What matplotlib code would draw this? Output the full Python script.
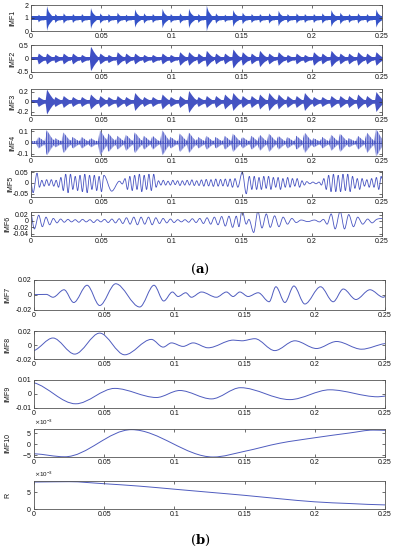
import numpy as np
import matplotlib
matplotlib.use("Agg")
import matplotlib.pyplot as plt
from matplotlib.path import Path
from matplotlib.patches import PathPatch
from matplotlib.ticker import FixedLocator, FixedFormatter, ScalarFormatter

# ------------------------------------------------------------------ data
xtick_values = [0, 0.05, 0.1, 0.15, 0.2, 0.25]
xtick_labels = ["0", "0.05", "0.1", "0.15", "0.2", "0.25"]

# impulse (burst) times in ms (IMF1..IMF4)
burst_times_ms = [5.2, 11.1, 17.1, 23.0, 29.6, 36.0, 42.4, 49.1, 55.0, 61.4,
                  67.5, 73.9, 80.3, 86.5, 93.4, 99.3, 105.9, 112.3, 119.0, 124.9,
                  131.5, 137.9, 143.8, 150.5, 156.9, 162.8, 169.4, 176.1, 182.5, 188.9,
                  194.8, 201.2, 207.3, 213.7, 220.1, 226.3, 232.7, 239.1, 245.7]

imf1_peaks = [0.3, 0.95, 0.35, 0.4, 0.35, 0.35, 0.8, 0.4, 0.35, 0.45,
              0.3, 0.7, 0.4, 0.35, 0.75, 0.35, 0.4, 0.75, 0.35, 1.0,
              0.4, 0.3, 0.65, 0.45, 0.35, 0.35, 0.4, 0.6, 0.35, 0.4,
              0.35, 0.35, 0.4, 0.65, 0.45, 0.35, 0.4, 0.35, 0.7]
imf2_peaks = [0.2, 0.2, 0.15, 0.2, 0.2, 0.15, 0.45, 0.2, 0.15, 0.25,
              0.2, 0.2, 0.15, 0.15, 0.2, 0.15, 0.25, 0.25, 0.2, 0.3,
              0.2, 0.2, 0.35, 0.25, 0.2, 0.3, 0.2, 0.25, 0.15, 0.2,
              0.15, 0.25, 0.2, 0.3, 0.2, 0.2, 0.25, 0.2, 0.25]
imf3_peaks = [0.1, 0.25, 0.1, 0.12, 0.1, 0.1, 0.15, 0.12, 0.1, 0.12,
              0.1, 0.18, 0.1, 0.1, 0.15, 0.1, 0.12, 0.22, 0.1, 0.12,
              0.12, 0.15, 0.18, 0.12, 0.12, 0.15, 0.18, 0.15, 0.12, 0.12,
              0.18, 0.1, 0.1, 0.12, 0.12, 0.12, 0.15, 0.12, 0.2]
imf4_peaks = [0.05, 0.11, 0.04, 0.09, 0.05, 0.05, 0.04, 0.11, 0.08, 0.06,
              0.07, 0.09, 0.06, 0.06, 0.11, 0.05, 0.08, 0.09, 0.05, 0.06,
              0.05, 0.06, 0.08, 0.05, 0.06, 0.07, 0.08, 0.06, 0.05, 0.06,
              0.09, 0.04, 0.05, 0.07, 0.08, 0.04, 0.06, 0.09, 0.12]
imf1_center, imf1_floor = 1.0, 0.14
imf2_floor = 0.06
imf3_floor = 0.035
imf4_floor = 0.014

# extrema (time in ms, value) (IMF5..R)
imf5_pts = [(0, 0.0), (1.5, -0.045), (4.3, 0.045), (6.0, -0.02), (7.7, 0.012), (9.4, -0.015),
            (11.1, 0.015), (12.8, -0.012), (14.5, 0.015), (16.2, -0.015), (17.9, 0.012),
            (19.6, -0.02), (21.3, 0.025), (23.0, -0.035), (24.7, 0.04), (26.4, -0.045),
            (28.1, 0.04), (29.8, -0.03), (31.5, 0.03), (33.2, -0.035), (34.9, 0.035),
            (36.6, -0.04), (38.3, 0.04), (40.0, -0.045), (41.7, 0.035), (43.4, -0.03),
            (45.1, 0.035), (46.8, -0.035), (48.5, 0.03), (50.2, -0.04), (51.9, 0.035),
            (57.5, -0.038), (63.0, 0.008), (65.0, -0.005), (67.0, 0.02), (68.7, -0.03),
            (70.4, 0.03), (72.1, -0.035), (73.8, 0.035), (75.5, -0.03), (77.2, 0.04),
            (78.9, -0.04), (80.6, 0.035), (82.3, -0.03), (84.0, 0.04), (85.7, -0.035),
            (87.4, 0.04), (89.1, -0.02), (90.8, 0.01), (92.5, -0.01), (94.2, 0.012),
            (95.9, -0.01), (97.6, 0.008), (99.3, -0.01), (101.0, 0.012), (102.7, -0.008),
            (104.4, 0.01), (106.1, -0.012), (107.8, 0.01), (109.5, -0.01), (111.2, 0.012),
            (112.9, -0.01), (114.6, 0.014), (116.3, -0.012), (118.0, 0.01), (119.7, -0.012),
            (121.4, 0.014), (123.1, -0.015), (124.8, 0.016), (126.5, -0.014), (128.2, 0.015),
            (129.9, -0.016), (131.6, 0.018), (133.3, -0.015), (135.0, 0.016), (136.7, -0.014),
            (138.4, 0.018), (140.1, -0.016), (141.8, 0.018), (143.5, -0.02), (145.3, 0.02),
            (147.3, -0.02), (150.5, 0.05), (153.3, -0.05), (155.5, 0.03), (157.3, -0.03),
            (159.0, 0.03), (160.7, -0.03), (162.4, 0.025), (164.1, -0.03), (165.8, 0.03),
            (167.5, -0.025), (169.2, 0.03), (170.9, -0.03), (172.6, 0.025), (174.3, -0.02),
            (176.0, 0.025), (177.7, -0.03), (179.4, 0.02), (181.1, -0.02), (182.8, 0.025),
            (184.5, -0.02), (186.2, 0.02), (187.9, -0.015), (189.6, 0.02), (191.3, -0.02),
            (193.0, 0.01), (194.7, -0.01), (196.4, 0.006), (198.6, -0.004), (200.8, 0.004),
            (203.0, -0.004), (205.2, 0.004), (206.9, -0.01), (208.6, 0.02), (210.3, -0.03),
            (212.0, 0.035), (213.7, -0.04), (215.4, 0.04), (217.1, -0.04), (218.8, 0.035),
            (220.5, -0.04), (222.2, 0.04), (223.9, -0.035), (225.6, 0.04), (227.3, -0.04),
            (229.0, 0.03), (230.7, -0.025), (232.4, 0.02), (234.1, -0.03), (235.8, 0.02),
            (237.5, -0.015), (239.2, 0.015), (240.9, -0.02), (242.6, 0.02), (244.3, -0.02),
            (246.0, 0.025), (247.7, -0.03), (249.4, 0.03), (250.0, 0.02)]

imf6_pts = [(0, 0.022), (2.4, -0.025), (5.5, 0.018), (8.1, -0.018), (10.7, 0.012), (13.3, -0.012),
            (15.9, 0.008), (18.5, -0.006), (21.1, 0.006), (23.7, -0.004), (26.3, 0.005),
            (28.9, -0.003), (31.5, 0.004), (34.1, -0.004), (36.7, 0.005), (39.3, -0.003),
            (42.0, 0.004), (44.6, -0.005), (47.2, 0.004), (49.8, -0.003), (52.4, 0.005),
            (55.0, -0.005), (57.6, 0.006), (60.2, -0.006), (62.8, 0.007), (65.4, -0.008),
            (68.0, 0.01), (70.6, -0.01), (73.2, 0.012), (75.8, -0.012), (78.4, 0.012),
            (81.0, -0.01), (83.7, 0.012), (86.3, -0.012), (88.9, 0.01), (91.5, -0.008),
            (94.1, 0.008), (96.7, -0.006), (99.3, 0.006), (101.9, -0.005), (104.5, 0.004),
            (107.1, -0.003), (109.7, 0.004), (112.3, -0.004), (114.9, 0.007), (117.6, -0.005),
            (120.2, 0.008), (122.8, -0.008), (125.4, 0.01), (128.0, -0.01), (130.6, 0.012),
            (133.2, -0.012), (135.8, 0.014), (138.4, -0.016), (141.0, 0.015), (143.6, -0.02),
            (146.2, 0.015), (148.1, -0.018), (150.3, 0.034), (153.3, -0.01), (155.2, 0.005),
            (158.6, -0.036), (161.6, 0.03), (164.5, -0.022), (167.6, 0.022), (170.4, -0.02),
            (173.5, 0.016), (176.6, -0.018), (179.6, 0.012), (182.7, -0.01), (185.8, 0.008),
            (188.9, -0.005), (192.4, 0.003), (197.2, -0.002), (201.9, 0.003), (205.5, -0.003),
            (208.3, 0.005), (210.9, -0.01), (213.8, 0.022), (216.6, -0.025), (220.2, 0.03),
            (223.3, -0.025), (226.3, 0.02), (229.7, -0.018), (232.7, 0.012), (236.3, -0.01),
            (239.8, 0.006), (242.9, -0.006), (246.2, 0.005), (250.0, 0.008)]

imf7_pts = [(0, 0.0005), (8.8, 0.0008), (13.5, -0.003), (21.4, 0.007), (28.3, -0.010),
            (37.8, 0.013), (46.8, -0.014), (58.2, 0.015), (75.3, -0.016), (85.5, 0.013),
            (92.4, -0.008), (98.6, 0.004), (102.6, -0.002), (108.1, 0.003), (112.1, -0.003),
            (119.3, 0.004), (129.9, -0.003), (137.1, 0.004), (141.8, -0.002), (146.6, 0.004),
            (152.5, -0.002), (159.7, 0.003), (167.5, -0.009), (172.3, 0.011), (178.7, -0.010),
            (185.1, 0.012), (192.9, -0.012), (204.1, 0.011), (213.1, -0.009), (220.3, 0.008),
            (229.3, -0.006), (239.3, 0.007), (248.8, -0.003), (250.0, -0.002)]

imf8_pts = [(0, -0.008), (13.5, 0.010), (29.0, -0.013), (46.8, 0.017), (64.6, -0.014),
            (83.6, 0.008), (92.0, -0.003), (97.9, 0.003), (106.2, -0.002), (113.3, 0.003),
            (124.0, -0.004), (142.0, 0.007), (148.0, 0.006), (157.3, 0.009), (171.5, -0.008),
            (185.8, 0.006), (201.2, -0.005), (215.5, 0.005), (233.3, -0.006), (250.0, 0.002)]

imf9_pts = [(0, 0.008), (29.7, -0.007), (57.5, 0.004), (87.2, -0.0025), (103.8, 0.0025),
            (126.4, -0.0035), (147.1, 0.0045), (182.2, -0.004), (210.7, 0.003),
            (245.0, -0.002), (250.0, -0.0015)]

imf10_pts = [(0, -4.5e-3), (21.9, -5.9e-3), (69.4, 6.5e-3), (127.6, -6.0e-3), (150, -3.4e-3),
             (175, 0.3e-3), (200, 2.8e-3), (225, 5.0e-3), (241.6, 6.3e-3), (250, 6.2e-3)]

r_pts = [(0, 7.9e-3), (25, 8.0e-3), (50, 7.4e-3), (75, 6.7e-3), (100, 5.8e-3), (125, 4.9e-3),
         (150, 4.0e-3), (175, 3.0e-3), (200, 2.1e-3), (225, 1.6e-3), (250, 1.2e-3)]

labels_a = ["IMF1", "IMF2", "IMF3", "IMF4", "IMF5", "IMF6"]
labels_b = ["IMF7", "IMF8", "IMF9", "IMF10", "R"]
yticks_a = [[0, 1, 2], [-0.5, 0, 0.5], [-0.2, 0, 0.2], [-0.1, 0, 0.1], [-0.05, 0, 0.05],
            [-0.04, -0.02, 0, 0.02]]
yticks_b = [[-0.02, 0, 0.02], [-0.02, 0, 0.02], [-0.01, 0, 0.01], [-5e-3, 0, 5e-3], [0, 5e-3]]

# ------------------------------------------------------------------ style / layout
W, H = 397, 550
plt.rcParams["font.family"] = ["Liberation Sans", "DejaVu Sans"]
plt.rcParams["mathtext.fontset"] = "dejavuserif"
plt.rcParams["hatch.linewidth"] = 0.6

line_color = "#4f5cbf"

fig = plt.figure(figsize=(W / 100, H / 100), dpi=100)

def px_axes(left, right, top, bottom):
    return fig.add_axes([left / W, 1 - bottom / H, (right - left) / W, (bottom - top) / H])

def style_axes(ax, yt, ylim, label, label_x):
    ax.set_xlim(0, 0.25)
    ax.set_ylim(*ylim)
    ax.xaxis.set_major_locator(FixedLocator(xtick_values))
    ax.xaxis.set_major_formatter(FixedFormatter(xtick_labels))
    ax.yaxis.set_major_locator(FixedLocator(yt))
    ax.tick_params(direction="in", length=2.2, width=0.5, top=True, right=True,
                   labelsize=5, pad=1.6, colors="#333333", labelcolor="#111111")
    for s in ax.spines.values():
        s.set_linewidth(0.6)
        s.set_color("#555555")
    ax.set_ylabel(label, fontsize=5, color="#111111")
    ax.yaxis.set_label_coords(label_x, 0.5)

def g_format(ax):
    ax.yaxis.set_major_formatter(plt.FuncFormatter(lambda v, p: "%g" % v))

def sci_format(ax):
    f = ScalarFormatter(useMathText=True)
    f.set_powerlimits((-2, 2))
    ax.yaxis.set_major_formatter(f)
    ax.yaxis.get_offset_text().set_fontsize(4.5)

def draw_bursts(ax, center, peaks, floor, offs_ms, facs, color, hatch=None, hatch_color=None):
    if hatch is None:
        kws = [dict(color=color, lw=0)]
    else:
        kws = [dict(color=color, lw=0),
               dict(facecolor="none", edgecolor=hatch_color, hatch=hatch, lw=0)]
    offs = np.asarray(offs_ms)
    facs = np.asarray(facs)
    for kw in kws:
        ax.fill_between([0, 0.25], center - floor, center + floor, **kw)
        for tb, A in zip(burst_times_ms, peaks):
            tt = (tb + offs) / 1000.0
            aa = np.maximum(A * facs, floor)
            ax.fill_between(tt, center - aa, center + aa, **kw)

def smooth_curve(ax, pts, color, lw=0.7):
    t = np.array([p[0] for p in pts]) / 1000.0
    v = np.array([p[1] for p in pts])
    n = len(t)
    m = np.zeros(n)
    for i in range(1, n - 1):
        d0 = v[i] - v[i - 1]
        d1 = v[i + 1] - v[i]
        if d0 * d1 > 0:
            m[i] = (v[i + 1] - v[i - 1]) / (t[i + 1] - t[i - 1])
    m[0] = 0.5 * (v[1] - v[0]) / (t[1] - t[0])
    m[-1] = 0.5 * (v[-1] - v[-2]) / (t[-1] - t[-2])
    verts = [(t[0], v[0])]
    codes = [Path.MOVETO]
    for i in range(n - 1):
        dt = t[i + 1] - t[i]
        verts += [(t[i] + dt / 3, v[i] + m[i] * dt / 3),
                  (t[i + 1] - dt / 3, v[i + 1] - m[i + 1] * dt / 3),
                  (t[i + 1], v[i + 1])]
        codes += [Path.CURVE4] * 3
    ax.add_patch(PathPatch(Path(verts, codes), fill=False, edgecolor=color, lw=lw,
                           capstyle="round", joinstyle="round"))

# ------------------------------------------------------------------ panel (a)
a_rows = [(5, 31), (45, 72), (89, 115), (129, 156), (171, 197), (212, 236)]
a_ylims = [(0, 2), (-0.5, 0.5), (-0.27, 0.25), (-0.12, 0.12), (-0.065, 0.055), (-0.047, 0.028)]
a_label_x = [-15 / 351, -15 / 351, -15 / 351, -15 / 351, -17 / 351, -20 / 351]
axes_a = []
for (top, bot), yt, yl, lab, lx in zip(a_rows, yticks_a, a_ylims, labels_a, a_label_x):
    ax = px_axes(31, 382, top, bot)
    style_axes(ax, yt, yl, lab, lx)
    g_format(ax)
    axes_a.append(ax)

draw_bursts(axes_a[0], imf1_center, imf1_peaks, imf1_floor,
            [-0.5, 0, 0.4, 1.2, 2.5, 4.0], [0, 1, 0.8, 0.55, 0.35, 0], "#3452c8")
draw_bursts(axes_a[1], 0.0, imf2_peaks, imf2_floor,
            [-0.8, 0, 0.8, 2.0, 3.5, 5.2], [0, 1, 0.85, 0.6, 0.35, 0], "#3d4ec4")
draw_bursts(axes_a[2], 0.0, imf3_peaks, imf3_floor,
            [-1.0, 0, 1.0, 2.4, 4.0, 5.6], [0, 1, 0.8, 0.55, 0.3, 0], "#4453c2")
draw_bursts(axes_a[3], 0.0, imf4_peaks, imf4_floor,
            [-1.5, 0, 1.2, 2.8, 4.5, 6.0], [0, 1, 0.8, 0.5, 0.25, 0], "#aab0e6",
            hatch="|" * 7, hatch_color="#3f4cc0")
axes_a[3].axhline(0, color="#4a56c2", lw=0.5)
smooth_curve(axes_a[4], imf5_pts, "#4a56c2", lw=0.6)
smooth_curve(axes_a[5], imf6_pts, "#4a56c2", lw=0.6)

# ------------------------------------------------------------------ panel (b)
b_rows = [(280, 310), (331, 359), (380, 408), (429, 457), (481, 509)]
b_ylims = [(-0.02, 0.02), (-0.02, 0.02), (-0.01, 0.01), (-6e-3, 6.8e-3), (0, 8.2e-3)]
axes_b = []
for (top, bot), yt, yl, lab in zip(b_rows, yticks_b, b_ylims, labels_b):
    ax = px_axes(34, 385, top, bot)
    style_axes(ax, yt, yl, lab, -23 / 351)
    axes_b.append(ax)
for ax in axes_b[:3]:
    g_format(ax)
for ax in axes_b[3:]:
    sci_format(ax)

for ax, pts in zip(axes_b, [imf7_pts, imf8_pts, imf9_pts, imf10_pts, r_pts]):
    smooth_curve(ax, pts, line_color, lw=0.7)

fig.text(0.504, 1 - 269 / H, "(" + r"$\mathbf{a}$" + ")", ha="center", va="center",
         fontsize=9.5, family="DejaVu Serif")
fig.text(0.504, 1 - 540 / H, "(" + r"$\mathbf{b}$" + ")", ha="center", va="center",
         fontsize=9.5, family="DejaVu Serif")

fig.savefig("out.png", dpi=100)
